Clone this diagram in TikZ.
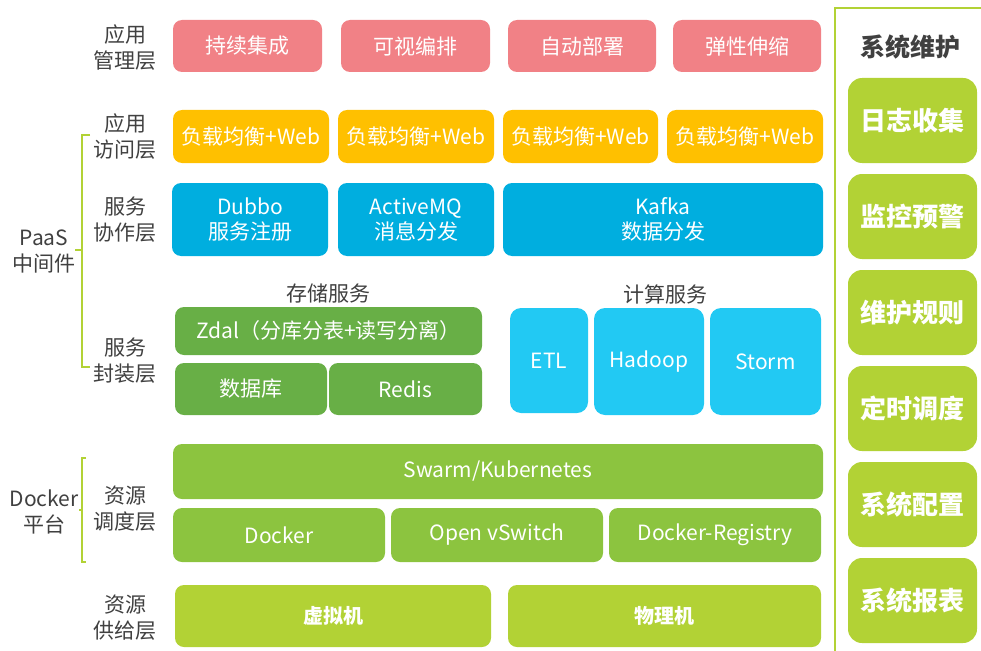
\documentclass[tikz,border=0pt]{standalone}
\usepackage{fontspec}
\setmainfont{Noto Sans CJK SC}
\definecolor{cpink}{HTML}{F18186}
\definecolor{corange}{HTML}{FFC000}
\definecolor{cblue}{HTML}{00AEDF}
\definecolor{cgreen}{HTML}{68AF46}
\definecolor{clblue}{HTML}{22C9F3}
\definecolor{cmgreen}{HTML}{8CC43F}
\definecolor{cygreen}{HTML}{B2D235}
\definecolor{ctext}{HTML}{404040}
\begin{document}
\begin{tikzpicture}[x=1pt,y=-1pt,
  bx/.style={text=white,font=\fontsize{21}{25}\selectfont,align=center},
  lbl/.style={text=ctext,font=\fontsize{21}{26}\selectfont,align=center},
  brk/.style={draw=cygreen,line width=1.6pt}]
\useasboundingbox (0,0) rectangle (981,650);
% row 1
\foreach \a/\b/\t [count=\i] in {173/322/持续集成,341/490/可视编排,508/656/自动部署,673/821/弹性伸缩}{
  \path[fill=cpink,rounded corners=9pt] (\a,20) rectangle (\b,72) node[bx,midway] (m\i) {\t};}
% row 2
\foreach \a/\b [count=\i] in {173/329,338/494,503/658,667/823}{
  \path[fill=corange,rounded corners=9pt] (\a,110) rectangle (\b,163) node[bx,midway] (w\i) {负载均衡+Web};}
% row 3
\path[fill=cblue,rounded corners=9pt] (172,183) rectangle (328,256) node[bx,midway] (dub) {Dubbo\\服务注册};
\path[fill=cblue,rounded corners=9pt] (338,183) rectangle (494,256) node[bx,midway] (amq) {ActiveMQ\\消息分发};
\path[fill=cblue,rounded corners=9pt] (503,183) rectangle (823,256) node[bx,midway] (kaf) {Kafka\\数据分发};
% storage
\node[lbl] (st) at (328,294) {存储服务};
\node[lbl] (cp) at (665,294) {计算服务};
\path[fill=cgreen,rounded corners=9pt] (175,307) rectangle (482,355) node[bx,midway] (zd) {Zdal（分库分表+读写分离）};
\path[fill=cgreen,rounded corners=9pt] (175,363) rectangle (327,415) node[bx,midway] (db) {数据库};
\path[fill=cgreen,rounded corners=9pt] (329,363) rectangle (482,415) node[bx,midway] (rd) {Redis};
% compute
\path[fill=clblue,rounded corners=11pt] (510,308) rectangle (588,413) node[bx,midway] (etl) {ETL};
\path[fill=clblue,rounded corners=11pt] (594,308) rectangle (704,415) node[bx,midway] (had) {Hadoop};
\path[fill=clblue,rounded corners=11pt] (710,308) rectangle (821,415) node[bx,midway] (sto) {Storm};
% docker
\path[fill=cmgreen,rounded corners=9pt] (173,444) rectangle (823,499) node[bx,midway] (sw) {Swarm/Kubernetes};
\path[fill=cmgreen,rounded corners=9pt] (173,508) rectangle (385,562) node[bx,midway] (dk) {Docker};
\path[fill=cmgreen,rounded corners=9pt] (391,508) rectangle (603,562) node[bx,midway] (ov) {Open vSwitch};
\path[fill=cmgreen,rounded corners=9pt] (609,508) rectangle (821,562) node[bx,midway] (dr) {Docker-Registry};
% resources
\path[fill=cygreen,rounded corners=9pt] (175,585) rectangle (491,647) node[bx,midway,font=\fontsize{20}{23}\selectfont\bfseries] (vm) {虚拟机};
\path[fill=cygreen,rounded corners=9pt] (508,585) rectangle (821,647) node[bx,midway,font=\fontsize{20}{23}\selectfont\bfseries] (pm) {物理机};
% left labels
\node[lbl] (l1) at (125,48) {应用\\管理层};
\node[lbl] (l2) at (125,137) {应用\\访问层};
\node[lbl] (l3) at (125,220) {服务\\协作层};
\node[lbl] (l4) at (125,361) {服务\\封装层};
\node[lbl] (l5) at (125,509) {资源\\调度层};
\node[lbl] (l6) at (125,618) {资源\\供给层};
\node[lbl] (paas) at (44,252) {PaaS\\中间件};
\node[lbl] (dp) at (44,512) {Docker\\平台};
% brackets
\draw[brk] (90,135) -- (82,135) -- (82,367) -- (90,367);
\draw[brk] (82,250) -- (75,250);
\draw[brk] (86,458) -- (82,458) -- (82,562) -- (86,562);
\draw[brk] (82,510) -- (79,510);
% right panel
\draw[draw=cygreen,line width=2pt] (985,8) -- (835,8) -- (835,652);
\node[text=ctext,font=\fontsize{25}{28}\selectfont\bfseries] (sys) at (910,47) {系统维护};
\foreach \y/\t [count=\i] in {78/日志收集,174/监控预警,270/维护规则,366/定时调度,462/系统配置,558/系统报表}{
  \path[fill=cygreen,rounded corners=14pt] (848,\y) rectangle (977,\y+85) node[midway,text=white,font=\fontsize{26}{29}\selectfont\bfseries] (r\i) {\t};}
\end{tikzpicture}
\end{document}
